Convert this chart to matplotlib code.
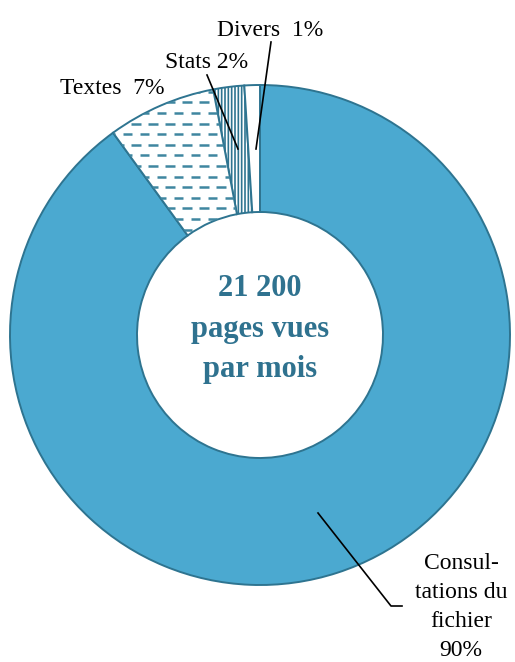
import matplotlib.pyplot as plt
import numpy as np
from matplotlib.collections import LineCollection

plt.rcParams['font.family'] = ['Liberation Serif', 'DejaVu Serif']
plt.rcParams['hatch.linewidth'] = 1.2

# données
categories = ['Consultations du fichier', 'Textes', 'Stats', 'Divers']
valeurs = [90, 7, 2, 1]
etiquettes = ['Consul-\ntations du\nfichier\n90%', 'Textes  7%', 'Stats 2%', 'Divers  1%']
texte_centre = '21 200\npages vues\npar mois'

W, H = 515, 662
bleu = '#4BA9D0'
bord = '#2E7490'
tirets = '#3F86A0'

def Y(y):
    # coordonnées pixel depuis le haut
    return H - y

fig = plt.figure(figsize=(W / 100, H / 100), dpi=100)
ax = fig.add_axes([0, 0, 1, 1])

cx, cy, R = 260, 335, 250
wedges, _ = ax.pie(valeurs, radius=R, center=(cx, Y(cy)), startangle=90,
                   counterclock=False,
                   wedgeprops=dict(width=127, edgecolor=bord, linewidth=1.4))

wedges[0].set_facecolor(bleu)
wedges[1].set_facecolor('white')
wedges[2].set_facecolor('white')
wedges[2].set_hatch('|||||')
wedges[3].set_facecolor('white')

# motif en tirets pour "Textes"
segs = []
for i, yy in enumerate(np.arange(60, 260, 10.6)):
    off = 0 if i % 2 == 0 else 8.5
    for xx in np.arange(80 + off, 260, 17):
        segs.append([(xx, Y(yy)), (xx + 9.5, Y(yy))])
lc = LineCollection(segs, colors=tirets, linewidths=1.8, zorder=3)
ax.add_collection(lc)
lc.set_clip_path(wedges[1])
wedges[1].set_zorder(2)

# étiquettes et traits de rappel
ax.text(270, Y(30), etiquettes[3], ha='center', va='center', fontsize=17)
ax.plot([271, 256], [Y(42), Y(149)], color='black', lw=1.2, zorder=5)

ax.text(207, Y(63), etiquettes[2], ha='center', va='center', fontsize=17)
ax.plot([207, 238], [Y(75), Y(149)], color='black', lw=1.2, zorder=5)

ax.text(112, Y(89), etiquettes[1], ha='center', va='center', fontsize=17)

ax.text(461, Y(607), etiquettes[0], ha='center', va='center', fontsize=17,
        linespacing=1.5)
ax.plot([318, 391, 402], [Y(513), Y(606), Y(606)], color='black', lw=1.2, zorder=5)

ax.text(cx, Y(329), texte_centre, ha='center', va='center', fontsize=22,
        fontweight='bold', color='#2F728F', linespacing=1.5)

ax.set_xlim(0, W)
ax.set_ylim(0, H)
ax.set_aspect('auto')
ax.axis('off')

fig.savefig('out.png', dpi=100)
